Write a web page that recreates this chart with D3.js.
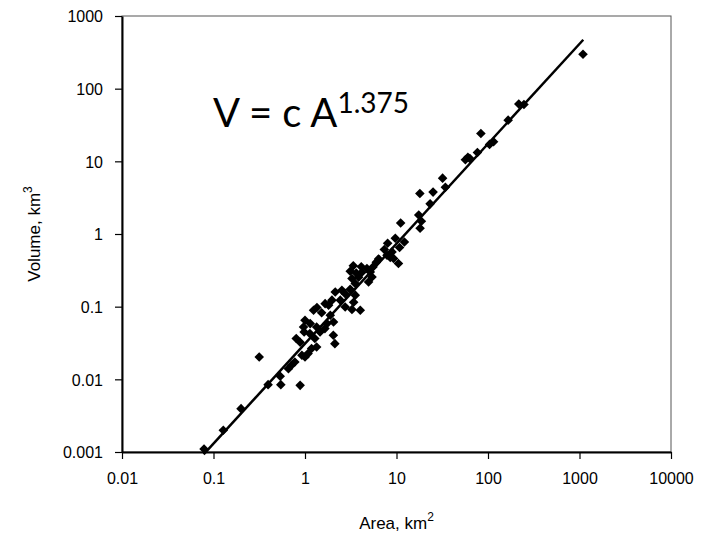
<!DOCTYPE html>
<html>
<head>
<meta charset="utf-8">
<script src="https://cdn.jsdelivr.net/npm/d3@7"></script>
<style>
  body { margin: 0; background: #fff; }
  text { font-family: "Liberation Sans", Arial, sans-serif; fill: #000; }
</style>
</head>
<body>
<svg id="chart"></svg>
<script>
var width = 707;
var height = 539;
var margin = {top: 16, right: 36, bottom: 87, left: 122};

// area (km2) and volume (km3)
var areas = [1092, 247, 217, 166, 83.6, 115, 104, 76.6, 60.3, 56.6, 63.4,
             31.9, 34.2, 25.1, 18.0, 23.3, 17.5, 18.7, 11.1, 18.1, 9.70,
             12.2, 8.0, 10.8, 8.93, 7.36, 7.87, 9.30, 8.55, 6.37, 10.5,
             6.01, 5.53, 4.75, 4.12, 3.37, 3.12, 3.63, 4.19, 5.17, 3.85,
             5.40, 4.95, 3.26, 3.54, 3.12, 2.75, 2.53, 2.14, 3.54, 1.97,
             2.43, 3.40, 4.02, 3.26, 2.75, 1.66, 1.81, 1.35, 1.24, 1.52,
             1.89, 1.00, 1.14, 2.05, 0.964, 1.34, 1.65, 1.46, 2.04, 2.12,
             1.13, 1.28, 0.979, 0.802, 0.885, 1.18, 1.34, 1.00, 1.08, 0.925,
             0.774, 0.711, 0.659, 0.536, 0.544, 0.395, 0.885, 0.316, 0.200,
             0.128, 0.0788, 1.74];
var volumes = [297, 60.4, 61.4, 36.9, 24.2, 18.6, 17.1, 13.2, 11.4, 10.5, 10.9,
               5.87, 4.41, 3.77, 3.61, 2.60, 1.83, 1.50, 1.42, 1.20, 0.875,
               0.778, 0.747, 0.652, 0.567, 0.612, 0.511, 0.460, 0.475, 0.454, 0.393,
               0.409, 0.352, 0.335, 0.355, 0.366, 0.307, 0.291, 0.298, 0.301, 0.254,
               0.256, 0.219, 0.244, 0.208, 0.174, 0.151, 0.168, 0.159, 0.144, 0.123,
               0.123, 0.115, 0.0892, 0.0912, 0.0991, 0.110, 0.105, 0.0972, 0.0892, 0.0824,
               0.0762, 0.0650, 0.0585, 0.0615, 0.0525, 0.0525, 0.0499, 0.0449, 0.0404, 0.0310,
               0.0426, 0.0364, 0.0449, 0.0364, 0.0324, 0.0265, 0.0279, 0.0203, 0.0226, 0.0214,
               0.0173, 0.0156, 0.0140, 0.0110, 0.00845, 0.00845, 0.00826, 0.0203, 0.00395,
               0.00199, 0.00110, 0.0585];

// power-law fit V = c A^1.375
var fitCoef = 0.031;
var fitExp = 1.375;
var fitRange = [0.078, 1100];

var xTicks = [0.01, 0.1, 1, 10, 100, 1000, 10000];
var yTicks = [0.001, 0.01, 0.1, 1, 10, 100, 1000];

var data = areas.map((a, i) => ({area: a, volume: volumes[i]}));

var svg = d3.select("#chart")
            .attr("width", width)
            .attr("height", height);

var xScale = d3.scaleLog()
               .domain([0.01, 10000])
               .range([margin.left, width - margin.right]);

var yScale = d3.scaleLog()
               .domain([0.001, 1000])
               .range([height - margin.bottom, margin.top]);

var fmt = d => String(d);

// frame (top & right)
svg.append("rect")
    .attr("x", margin.left)
    .attr("y", margin.top)
    .attr("width", width - margin.right - margin.left)
    .attr("height", height - margin.bottom - margin.top)
    .attr("fill", "none")
    .attr("stroke", "#555")
    .attr("stroke-width", 1);

var xAxis = d3.axisBottom(xScale)
              .tickValues(xTicks)
              .tickFormat(fmt)
              .tickSize(7)
              .tickSizeOuter(0)
              .tickPadding(14);

var yAxis = d3.axisLeft(yScale)
              .tickValues(yTicks)
              .tickFormat(fmt)
              .tickSize(7)
              .tickSizeOuter(0)
              .tickPadding(12);

var gx = svg.append("g")
    .attr("transform", "translate(0," + (height - margin.bottom) + ")")
    .call(xAxis);

var gy = svg.append("g")
    .attr("transform", "translate(" + margin.left + ",0)")
    .call(yAxis);

[gx, gy].forEach(g => {
    g.select(".domain").attr("stroke", "#000").attr("stroke-width", 2);
    g.selectAll(".tick line").attr("stroke", "#000").attr("stroke-width", 1.2);
    g.selectAll(".tick text")
        .attr("font-family", "Liberation Sans, Arial, sans-serif")
        .attr("font-size", 16)
        .attr("fill", "#000");
});
gy.selectAll(".tick text").attr("dy", "0.36em");

// fit line
var line = d3.line()
             .x(d => xScale(d))
             .y(d => yScale(fitCoef * Math.pow(d, fitExp)));

svg.append("path")
    .datum(fitRange)
    .attr("d", line)
    .attr("fill", "none")
    .attr("stroke", "#000")
    .attr("stroke-width", 2.5);

// points
var diamond = d3.symbol().type(d3.symbolSquare).size(46);

svg.selectAll(".pt")
  .data(data)
  .enter()
  .append("path")
    .classed("pt", true)
    .attr("d", diamond)
    .attr("transform", d => "translate(" + xScale(d.area) + "," + yScale(d.volume) + ") rotate(45)")
    .attr("fill", "#000");

// equation
var eq = svg.append("text")
    .attr("x", 213)
    .attr("y", 127)
    .style("font-family", "Lato, 'Open Sans', sans-serif")
    .attr("font-size", 40);
eq.append("tspan").text("V = c A");
eq.append("tspan")
    .attr("font-size", 28)
    .attr("dy", -14)
    .text(fitExp);

// axis titles
var xt = svg.append("text")
    .attr("x", (margin.left + width - margin.right) / 2)
    .attr("y", 529)
    .attr("text-anchor", "middle")
    .attr("font-size", 17);
xt.append("tspan").text("Area, km");
xt.append("tspan").attr("font-size", 12).attr("dy", -8).text("2");

var yt = svg.append("text")
    .attr("transform", "translate(40," + ((margin.top + height - margin.bottom) / 2) + ") rotate(-90)")
    .attr("text-anchor", "middle")
    .attr("font-size", 17);
yt.append("tspan").text("Volume, km");
yt.append("tspan").attr("font-size", 12).attr("dy", -8).text("3");
</script>
</body>
</html>
